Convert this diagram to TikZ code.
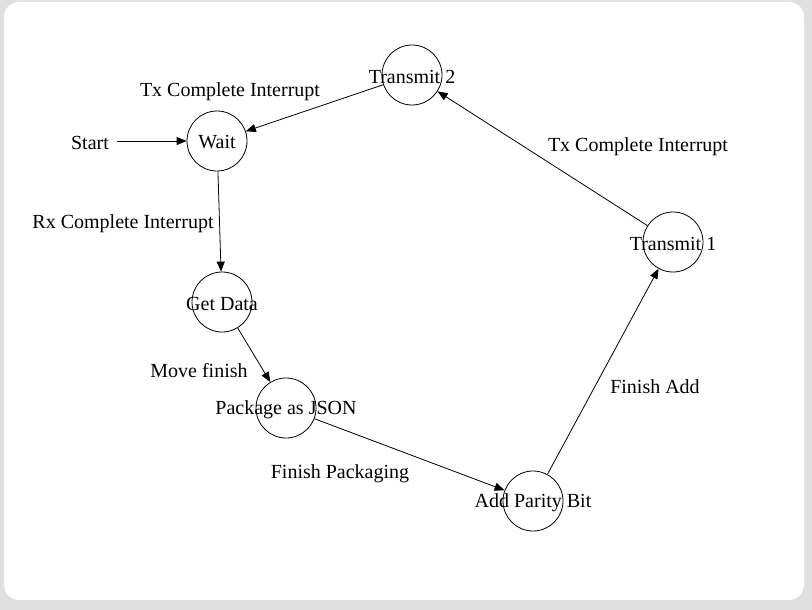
\documentclass[tikz,border=0pt]{standalone}
\usepackage{tikz}
\usepackage{xcolor}
\usepackage{fontspec}
\setmainfont{Liberation Serif}
\usetikzlibrary{arrows.meta}
\definecolor{frameGray}{RGB}{224, 224, 224}

\begin{document}
\begin{tikzpicture}[x=1pt, y=-1pt]
            % Styles
            \tikzstyle{state} = [circle, draw, line width=0.8pt, minimum size=60pt, inner sep=0pt]
            \tikzstyle{lbl} = [font=\fontsize{20}{22}\selectfont, inner sep=0pt, yshift=-1.5pt]
            \tikzstyle{arrow} = [-{Triangle[length=10pt, width=8pt]}, line width=0.8pt, black]

            % Background
            \fill[frameGray] (0, 0) rectangle (812, 610);
            \fill[white, rounded corners=15pt] (4, 2) rectangle (804, 600);

            % Nodes
            \node[state, label={[lbl]center:Wait}] (wait) at (217, 141) {};
            \node[state, label={[lbl]center:Transmit 2}] (tx2) at (412, 75) {};
            \node[state, label={[lbl]center:Get Data}] (getdata) at (222, 302) {};
            \node[state, label={[lbl]center:Package as JSON}] (json) at (286, 408) {};
            \node[state, label={[lbl]center:Add Parity Bit}] (parity) at (533, 501) {};
            \node[state, label={[lbl]center:Transmit 1}] (tx1) at (673, 242) {};
            \node[lbl] (start) at (90, 141) {Start};

            % Labels
            \node[lbl] at (230, 90) {Tx Complete Interrupt};
            \node[lbl] at (123, 222) {Rx Complete Interrupt};
            \node[lbl] at (199, 369) {Move finish};
            \node[lbl] at (340, 472) {Finish Packaging};
            \node[lbl] at (655, 385) {Finish Add};
            \node[lbl] at (638, 145) {Tx Complete Interrupt};

            % Arrows
            \draw[arrow] ([xshift=8pt]start.east |- wait) -- (wait);
            \draw[arrow] (tx2) -- (wait);
            \draw[arrow] (wait) -- (getdata);
            \draw[arrow] (getdata) -- (json);
            \draw[arrow] (json) -- (parity);
            \draw[arrow] (parity) -- (tx1);
            \draw[arrow] (tx1) -- (tx2);
        \end{tikzpicture}
\end{document}
